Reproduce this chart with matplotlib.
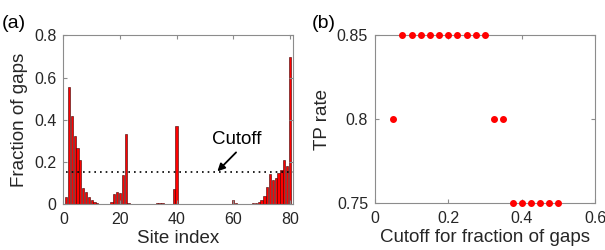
import numpy as np
import matplotlib
matplotlib.use('Agg')
import matplotlib.pyplot as plt

plt.rcParams['font.family'] = ['Liberation Sans', 'DejaVu Sans']

# (a) fraction of gaps per site
site = np.arange(1, 81)
frac = np.array([
    0.035, 0.555, 0.42, 0.325, 0.265, 0.21, 0.075, 0.055, 0.035, 0.02,
    0.01, 0.005, 0.002, 0.001, 0.0, 0.0, 0.01, 0.048, 0.055, 0.05,
    0.14, 0.33, 0.003, 0.0, 0.0, 0.0, 0.0, 0.0, 0.0, 0.0,
    0.0, 0.0, 0.003, 0.004, 0.003, 0.002, 0.0, 0.0, 0.073, 0.37,
    0.001, 0.0, 0.0, 0.0, 0.0, 0.0, 0.0, 0.0, 0.0, 0.0,
    0.0, 0.0, 0.0, 0.0, 0.0, 0.0, 0.0, 0.0, 0.0, 0.02,
    0.007, 0.002, 0.002, 0.002, 0.002, 0.002, 0.003, 0.005, 0.01, 0.02,
    0.038, 0.08, 0.141, 0.114, 0.125, 0.149, 0.162, 0.21, 0.18, 0.7])
cutoff = 0.15

# (b) TP rate vs cutoff
cut_vals = [0.05, 0.075, 0.1, 0.125, 0.15, 0.175, 0.2, 0.225, 0.25, 0.275, 0.3,
            0.325, 0.35, 0.375, 0.4, 0.425, 0.45, 0.475, 0.5]
tp_rate = [0.8, 0.85, 0.85, 0.85, 0.85, 0.85, 0.85, 0.85, 0.85, 0.85, 0.85,
           0.8, 0.8, 0.75, 0.75, 0.75, 0.75, 0.75, 0.75]

spine_col = '#8c8c8c'
txt_col = '#262626'
tick_fs = 11.5
lab_fs = 13.5


def style(ax):
    for s in ax.spines.values():
        s.set_color(spine_col)
        s.set_linewidth(0.8)
    ax.tick_params(direction='in', top=True, right=True, length=3,
                   color=spine_col, labelcolor=txt_col, labelsize=tick_fs)
    ax.tick_params(axis='x', pad=6)
    ax.tick_params(axis='y', pad=5)


fig = plt.figure(figsize=(6.05, 2.5), dpi=100)

ax1 = fig.add_axes([0.1047, 0.184, 0.3791, 0.674])
ax1.bar(site, frac, width=0.8, color='#ff0000', edgecolor='#3a0000', linewidth=0.4)
ax1.plot([1, 81], [cutoff, cutoff], color='k', linewidth=1.2, linestyle=(0, (1, 2.4)))
ax1.text(61.2, 0.305, 'Cutoff', ha='center', va='center', fontsize=lab_fs, color='k')
ax1.annotate('', xy=(54.4, 0.155), xytext=(61.0, 0.245),
             arrowprops=dict(arrowstyle='-|>', color='k', lw=1.3,
                             mutation_scale=11, shrinkA=0, shrinkB=0))
ax1.set_xlim(0, 81)
ax1.set_ylim(0, 0.8)
ax1.set_xticks([0, 20, 40, 60, 80])
ax1.set_yticks([0, 0.2, 0.4, 0.6, 0.8])
ax1.set_yticklabels(['0', '0.2', '0.4', '0.6', '0.8'])
ax1.set_xlabel('Site index', fontsize=lab_fs, color=txt_col, labelpad=2)
ax1.set_ylabel('Fraction of gaps', fontsize=lab_fs, color=txt_col, labelpad=4)
style(ax1)
fig.text(0.003, 0.905, '(a)', fontsize=14, color='k', va='center')

ax2 = fig.add_axes([0.6198, 0.188, 0.3637, 0.672])
ax2.plot(cut_vals, tp_rate, 'o', color='#ff0000', markersize=4, clip_on=False, zorder=3)
ax2.set_xlim(0, 0.6)
ax2.set_ylim(0.75, 0.85)
ax2.set_xticks([0, 0.2, 0.4, 0.6])
ax2.set_xticklabels(['0', '0.2', '0.4', '0.6'])
ax2.set_yticks([0.75, 0.8, 0.85])
ax2.set_yticklabels(['0.75', '0.8', '0.85'])
ax2.set_xlabel('Cutoff for fraction of gaps', fontsize=lab_fs, color=txt_col, labelpad=2)
ax2.set_ylabel('TP rate', fontsize=lab_fs, color=txt_col, labelpad=4)
style(ax2)
fig.text(0.515, 0.905, '(b)', fontsize=14, color='k', va='center')

fig.savefig('out.png', dpi=100)
